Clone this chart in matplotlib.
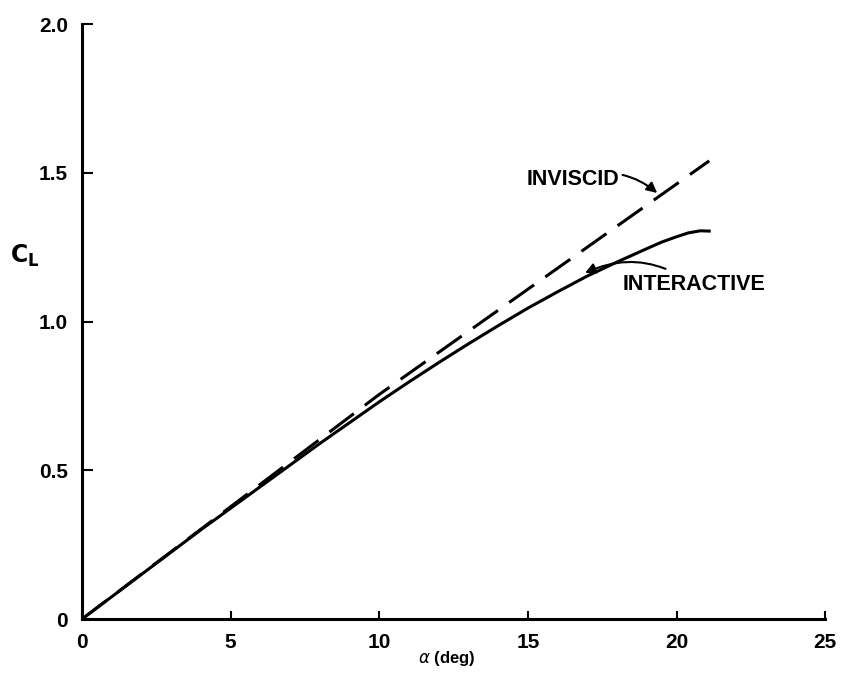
import matplotlib
matplotlib.use('Agg')
import matplotlib.pyplot as plt

# Data
alpha_inviscid = [0, 10, 21.1]
cl_inviscid = [0, 0.755, 1.54]

alpha_interactive = [0, 2, 4, 6, 8, 10, 11, 12, 13, 14, 15, 16, 17, 18, 19, 19.5,
                     20, 20.4, 20.8, 21.1]
cl_interactive = [0, 0.15, 0.30, 0.445, 0.59, 0.73, 0.797, 0.862, 0.925, 0.986,
                  1.045, 1.10, 1.153, 1.20, 1.245, 1.267, 1.285, 1.298, 1.305, 1.304]

x_ticks = [0, 5, 10, 15, 20, 25]
y_ticks = [0, 0.5, 1.0, 1.5, 2.0]
y_ticklabels = ['0', '0.5', '1.0', '1.5', '2.0']

plt.rcParams['font.family'] = ['Liberation Sans', 'DejaVu Sans']

fig = plt.figure(figsize=(8.42, 6.73), dpi=100)
ax = fig.add_axes([0.0974, 0.0802, 0.8826, 0.8841])

ax.plot(alpha_inviscid, cl_inviscid, color='black', lw=2.2, dashes=(10, 4.5))
ax.plot(alpha_interactive, cl_interactive, color='black', lw=2.2)

ax.set_xlim(0, 25)
ax.set_ylim(0, 2.0)
ax.spines['right'].set_visible(False)
ax.spines['top'].set_visible(False)
ax.spines['left'].set_linewidth(2.2)
ax.spines['bottom'].set_linewidth(2.2)

ax.set_xticks(x_ticks)
ax.set_xticklabels([str(t) for t in x_ticks], fontsize=15, fontweight='bold')
ax.set_yticks(y_ticks)
ax.set_yticklabels(y_ticklabels, fontsize=15, fontweight='bold')
ax.tick_params(axis='x', direction='in', length=6, width=1.5, pad=10)
ax.tick_params(axis='y', direction='in', length=8, width=1.5, pad=10)

# axis labels placed by hand like in the scan
fig.text(0.531, 0.021, r'$\alpha$ (deg)', fontsize=12, fontweight='bold',
         ha='center', va='center')
fig.text(0.03, 0.62, r'$\mathbf{C_L}$', fontsize=17, ha='center', va='center')

ax.annotate('INVISCID', xy=(19.35, 1.432), xytext=(14.97, 1.476),
            fontsize=15.5, fontweight='bold', va='center',
            arrowprops=dict(arrowstyle='-|>', color='black', lw=1.5,
                            shrinkA=38, shrinkB=0,
                            connectionstyle='arc3,rad=-0.3'))
ax.annotate('INTERACTIVE', xy=(16.92, 1.163), xytext=(18.17, 1.123),
            fontsize=15.5, fontweight='bold', va='center',
            arrowprops=dict(arrowstyle='-|>', color='black', lw=1.5,
                            shrinkA=5, shrinkB=0,
                            connectionstyle='arc3,rad=0.3'))

fig.savefig('out.png', dpi=100)
